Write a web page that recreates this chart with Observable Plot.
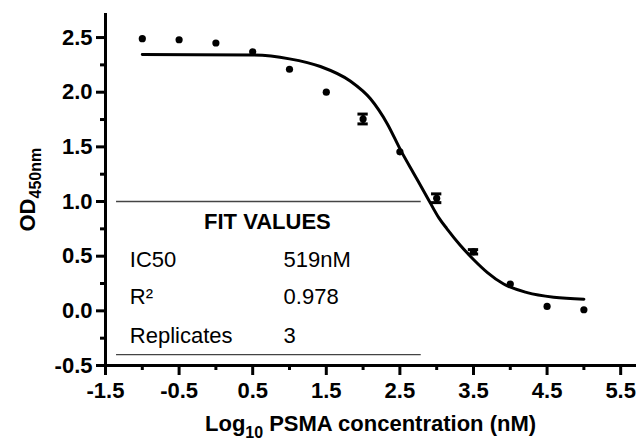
<!DOCTYPE html>
<html>
<head>
<meta charset="utf-8">
<script src="https://cdn.jsdelivr.net/npm/d3@7"></script>
<script src="https://cdn.jsdelivr.net/npm/@observablehq/plot@0.6"></script>
</head>
<body style="margin:0;background:#fff">
<div id="chart"></div>
<script>
// ---- data ----
const logConc = [-1.0, -0.5, 0.0, 0.5, 1.0, 1.5, 2.0, 2.5, 3.0, 3.5, 4.0, 4.5, 5.0];
const od      = [2.49, 2.48, 2.45, 2.37, 2.21, 2.00, 1.755, 1.455, 1.03, 0.54, 0.245, 0.04, 0.01];
const odErr   = [0, 0, 0, 0, 0, 0, 0.045, 0, 0.04, 0.02, 0, 0, 0];

// fitted curve
const fitX = [-1.0, 0.5, 1.0, 1.42, 1.83, 2.1, 2.33, 2.51, 2.69, 2.87, 3.03, 3.14, 3.32, 3.5, 3.69, 3.91, 4.23, 4.59, 5.0];
const fitY = [2.345, 2.34, 2.305, 2.235, 2.10, 1.94, 1.71, 1.47, 1.255, 1.04, 0.85, 0.75, 0.60, 0.47, 0.35, 0.245, 0.167, 0.125, 0.107];

const xMajor = [-1.5, -0.5, 0.5, 1.5, 2.5, 3.5, 4.5, 5.5];
const xMinor = [-1, 0, 1, 2, 3, 4, 5];
const yMajor = [-0.5, 0.0, 0.5, 1.0, 1.5, 2.0, 2.5];
const yMinor = [-0.25, 0.25, 0.75, 1.25, 1.75, 2.25];

const tableTitle = "FIT VALUES";
const tableLabels = ["IC50", "R²", "Replicates"];
const tableValues = ["519nM", "0.978", "3"];

const yTitle = ["OD", "450nm"];
const xTitle = ["Log", "10", "PSMA concentration (nM)"];

// ---- build tables ----
const points = logConc.map((x, i) => ({x, y: od[i], e: odErr[i]}));
const bars = points.filter(d => d.e > 0);
const fit = fitX.map((x, i) => ({x, y: fitY[i]}));
const rowY = [0.47, 0.125, -0.228];
const rows = tableLabels.map((l, i) => ({label: l, value: tableValues[i], y: rowY[i]}));

const FONT = "'Liberation Sans', Arial, Helvetica, sans-serif";
const capHalf = 0.07;
const title = (t, o) => Plot.text([t], {text: d => d, fontWeight: "bold", fill: "#000", textAnchor: "start", ...o});

const plot = Plot.plot({
  width: 639,
  height: 445,
  marginLeft: 105,
  marginRight: 3,
  marginTop: 13,
  marginBottom: 80,
  style: {fontFamily: FONT},
  x: {domain: [-1.5, 5.715], axis: null},
  y: {domain: [-0.5, 2.72], axis: null},
  marks: [
    Plot.axisY(yMajor, {tickSize: 9, tickPadding: 4, strokeWidth: 3, stroke: "#000", fill: "#000", fontSize: 22, fontWeight: "bold", tickFormat: d => d.toFixed(1), label: null}),
    Plot.axisY(yMinor, {tickSize: 5, strokeWidth: 3, stroke: "#000", tickFormat: () => "", label: null}),
    Plot.axisX(xMajor, {tickSize: 10, tickPadding: 7, strokeWidth: 3, stroke: "#000", fill: "#000", fontSize: 22, fontWeight: "bold", tickFormat: d => d.toFixed(1), label: null}),
    Plot.axisX(xMinor, {tickSize: 5, strokeWidth: 3, stroke: "#000", tickFormat: () => "", label: null}),
    Plot.ruleX([-1.5], {strokeWidth: 3, stroke: "#000"}),
    Plot.ruleY([-0.5], {strokeWidth: 3, stroke: "#000"}),
    // axis titles (with subscripts as separate pieces)
    title(yTitle[0], {frameAnchor: "left", rotate: -90, fontSize: 22, dx: -78, dy: 42}),
    title(yTitle[1], {frameAnchor: "left", rotate: -90, fontSize: 16, dx: -70, dy: 9}),
    title(xTitle[0], {frameAnchor: "bottom", fontSize: 22, dx: -166, dy: 65}),
    title(xTitle[1], {frameAnchor: "bottom", fontSize: 16, dx: -125.7, dy: 72}),
    title(xTitle[2], {frameAnchor: "bottom", fontSize: 22, dx: -101.8, dy: 65}),
    // fit-values table
    Plot.ruleY([1.0, -0.4], {x1: -1.35, x2: 2.79, stroke: "#444", strokeWidth: 1.3}),
    Plot.text([tableTitle], {x: 0.70, y: 0.81, text: d => d, fontSize: 22, fontWeight: "bold", fill: "#000"}),
    Plot.text(rows, {x: -1.17, y: "y", text: "label", textAnchor: "start", fontSize: 22, fill: "#000"}),
    Plot.text(rows, {x: 0.92, y: "y", text: "value", textAnchor: "start", fontSize: 22, fill: "#000"}),
    // curve
    Plot.line(fit, {x: "x", y: "y", curve: "monotone-x", strokeWidth: 3, stroke: "#000"}),
    // error bars
    Plot.ruleX(bars, {x: "x", y1: d => d.y - d.e, y2: d => d.y + d.e, strokeWidth: 3, stroke: "#000"}),
    Plot.ruleY(bars, {y: d => d.y - d.e, x1: d => d.x - capHalf, x2: d => d.x + capHalf, strokeWidth: 3, stroke: "#000"}),
    Plot.ruleY(bars, {y: d => d.y + d.e, x1: d => d.x - capHalf, x2: d => d.x + capHalf, strokeWidth: 3, stroke: "#000"}),
    // data points
    Plot.dot(points, {x: "x", y: "y", r: 3.6, fill: "#000", stroke: null})
  ]
});

document.getElementById("chart").appendChild(plot);
</script>
</body>
</html>
